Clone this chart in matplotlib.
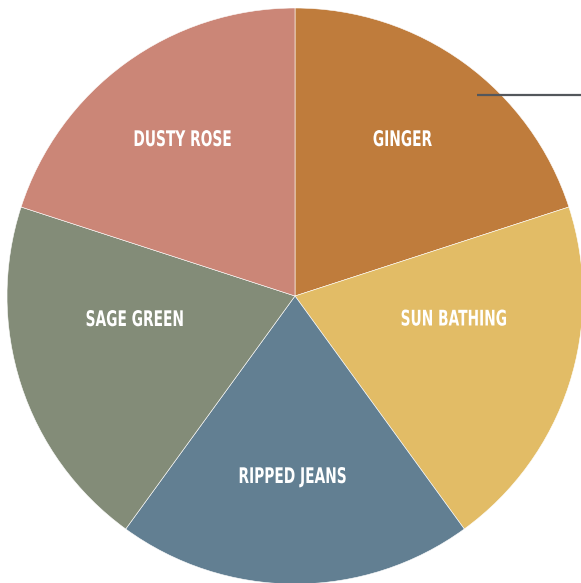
import matplotlib
matplotlib.use("Agg")
import matplotlib.pyplot as plt
from matplotlib import font_manager
from matplotlib.patheffects import AbstractPathEffect
from matplotlib.transforms import Affine2D

labels = ["GINGER", "SUN BATHING", "RIPPED JEANS", "SAGE GREEN", "DUSTY ROSE"]
values = [1, 1, 1, 1, 1]
colors = ["#BF7C3C", "#E2BC66", "#627F92", "#838C78", "#CB8677"]

# label anchor positions in pixels (centre x, baseline y) from the top-left
label_px = [(402.5, 146), (454, 325.5), (292.5, 483), (135, 326), (182.5, 146)]


class Squeeze(AbstractPathEffect):
    """Condense glyphs horizontally about the text centre."""
    def __init__(self, sx=0.64):
        super().__init__()
        self.sx = sx

    def draw_path(self, renderer, gc, tpath, affine, rgbFace=None):
        ext = tpath.get_extents()
        cxl = (ext.x0 + ext.x1) / 2
        t = Affine2D().translate(-cxl, 0).scale(self.sx, 1).translate(cxl, 0) + affine
        renderer.draw_path(gc, tpath, t, rgbFace)


fig = plt.figure(figsize=(5.81, 5.83), dpi=100)
ax = fig.add_axes([0, 0, 1, 1])
cx, cy, R = 295, 296, 288
W, H = 581, 583
wedges, _ = ax.pie(values, colors=colors, startangle=90, counterclock=False,
                   wedgeprops=dict(edgecolor="white", linewidth=0.4))
ax.set_xlim(-cx / R, (W - cx) / R)
ax.set_ylim(-(H - cy) / R, cy / R)
ax.set_aspect("auto")
ax.axis("off")

for lab, (px, py) in zip(labels, label_px):
    ax.text((px - cx) / R, (cy - py) / R, lab, color="white", fontsize=15.5,
            fontweight="bold", family="DejaVu Sans", ha="center", va="baseline",
            path_effects=[Squeeze(0.64)])

ax.plot([(477 - cx) / R, (W - cx) / R], [(cy - 95) / R, (cy - 95) / R],
        color="#53575C", lw=1.6, solid_capstyle="butt")
fig.savefig("out.png", dpi=100)
